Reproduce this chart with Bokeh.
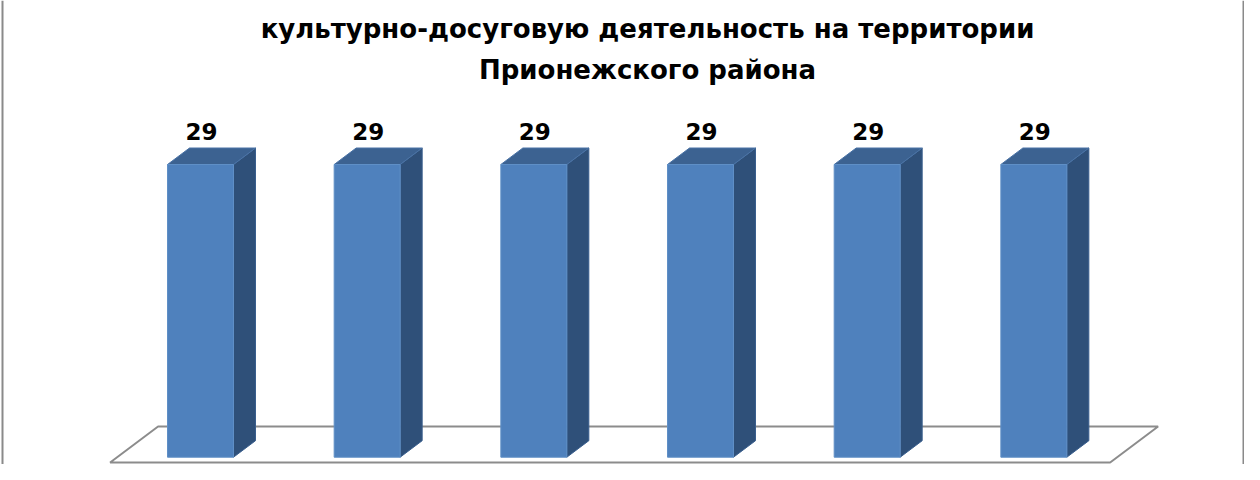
from bokeh.plotting import figure
from bokeh.models import Range1d, Label, ColumnDataSource
from bokeh.core.properties import value
from bokeh.embed import file_html
from bokeh.resources import INLINE

# ---- data ----
categories = ["1", "2", "3", "4", "5", "6"]
values = [29, 29, 29, 29, 29, 29]
value_labels = ["29", "29", "29", "29", "29", "29"]
title_lines = [
    "культурно-досуговую деятельность на территории",
    "Прионежского района",
]

# ---- layout (pixels) ----
W, H = 1244, 464
PX_X = 166.67          # pixels per category
PX_Y = 10.093          # pixels per value unit
X_OFF = 200            # pixel x of first category centre
B_OFF = 7.3            # pixels from bottom to baseline
BAR_W_PX = 66
DEPTH_X_PX, DEPTH_Y_PX = 22, 16.5
FLOOR_FRONT, FLOOR_BACK = -0.32, 1.86
LABEL_OFF_PX = 24
LABEL_FIX = 9          # compensation for baseline placement
TITLE_FIX = 7

FRONT = "#4F81BD"
SIDE = "#2F5079"
TOP = "#3C6291"
EDGE = "#5F8FC6"
GREY = "#8C8C8C"
FONT = "DejaVu Sans"
LABEL_FS = "23px"
TITLE_FS = "26px"

p = figure(width=W, height=H, output_backend="svg", toolbar_location=None,
           x_range=Range1d(-X_OFF / PX_X, (W - X_OFF) / PX_X),
           y_range=Range1d(-B_OFF / PX_Y, (H - B_OFF) / PX_Y),
           min_border=0)
p.axis.visible = False
p.grid.visible = False
p.outline_line_color = None
p.background_fill_color = "white"
p.border_fill_color = "white"


def px2x(fx):
    return (fx - X_OFF) / PX_X


def px2y(fy_top):
    return (H - fy_top - B_OFF) / PX_Y


n = len(values)
xs = list(range(n))
bw = BAR_W_PX / PX_X
dx = DEPTH_X_PX / PX_X
dy = DEPTH_Y_PX / PX_Y

# floor
fx0, fx1 = -0.5, n - 0.5
floor_x = [fx0 + FLOOR_FRONT * dx, fx0 + FLOOR_BACK * dx,
           fx1 + FLOOR_BACK * dx, fx1 + FLOOR_FRONT * dx]
floor_y = [FLOOR_FRONT * dy, FLOOR_BACK * dy, FLOOR_BACK * dy, FLOOR_FRONT * dy]
p.patch(floor_x, floor_y, fill_color="white", line_color=GREY, line_width=2)

# bars
side_xs, side_ys, top_xs, top_ys = [], [], [], []
for x, v in zip(xs, values):
    r = x + bw / 2
    l = x - bw / 2
    side_xs.append([r, r + dx, r + dx, r])
    side_ys.append([0, dy, v + dy, v])
    top_xs.append([l, r, r + dx, l + dx])
    top_ys.append([v, v, v + dy, v + dy])

p.patches(side_xs, side_ys, fill_color=SIDE, line_color="#3A5F8E", line_width=1)
p.patches(top_xs, top_ys, fill_color=TOP, line_color="#4A73A6", line_width=1)
p.quad(left=[x - bw / 2 for x in xs], right=[x + bw / 2 for x in xs],
       bottom=0, top=values, fill_color=FRONT, line_color=EDGE, line_width=1)

src = ColumnDataSource(dict(x=[x + 1 / PX_X for x in xs],
                            y=[v + (LABEL_OFF_PX + LABEL_FIX) / PX_Y for v in values],
                            t=value_labels))
p.text(x="x", y="y", text="t", source=src, text_align="center",
       text_baseline="alphabetic", text_font=value(FONT),
       text_font_style="bold", text_font_size=LABEL_FS, text_color="black")

# title
for line, base in zip(title_lines, [35, 76.7]):
    p.add_layout(Label(x=px2x(647), y=px2y(base - TITLE_FIX), text=line,
                       text_align="center", text_baseline="alphabetic",
                       text_font=FONT, text_font_style="bold",
                       text_font_size=TITLE_FS, text_color="black"))

# chart border (left and right edges visible)
p.segment(x0=[px2x(2), px2x(W - 1)], y0=[px2y(H), px2y(H)],
          x1=[px2x(2), px2x(W - 1)], y1=[px2y(0), px2y(0)],
          line_color="#8A8A8A", line_width=2)

open("out.html", "w").write(file_html(p, INLINE))
